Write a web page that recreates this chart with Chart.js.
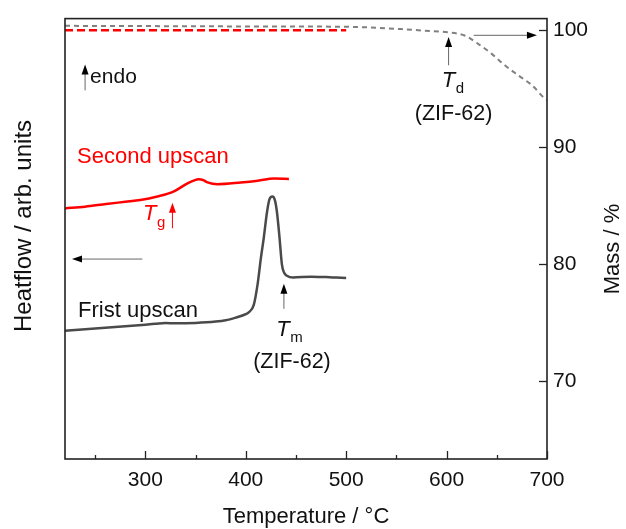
<!DOCTYPE html>
<html>
<head>
<meta charset="utf-8">
<script src="https://cdn.jsdelivr.net/npm/chart.js@4.4.1/dist/chart.umd.min.js"></script>
<style>
  body { margin: 0; background: #fff; }
  canvas { display: block; }
</style>
</head>
<body>
<canvas id="dscChart" width="626" height="529"></canvas>
<script>
var FONT = '"Liberation Sans", Arial, sans-serif';

// TGA mass loss (ZIF-62), right axis
var massTemp  = [220, 300, 400, 500, 555, 578, 601, 618, 632, 645, 658, 672, 685, 698, 700];
var massValue = [100.38, 100.36, 100.33, 100.3, 100.1, 99.97, 99.83, 99.55, 98.8, 97.98, 97.0, 96.1, 95.3, 94.15, 94.05];

// 100 % reference line
var refTemp = [220, 500];
var refMass = [100, 100];

// DSC second upscan (glass), left axis
var secondTemp = [220, 240, 261, 280, 295, 312, 328, 342, 348, 353, 358, 362, 372, 395, 412, 428, 443];
var secondHeat = [56.9, 57.3, 57.9, 58.4, 58.8, 59.6, 60.7, 62.6, 63.2, 63.5, 63.3, 62.8, 62.4, 62.8, 63.2, 63.7, 63.6];

// DSC first upscan (crystal, melting peak), left axis
var firstTemp = [220, 260, 300, 310, 320, 330, 350, 370, 380, 390, 398, 403, 408, 412, 415, 418, 421, 423.5, 426.5, 429, 431, 433.5, 436, 438, 441, 447, 465, 480, 490, 500];
var firstHeat = [29.1, 29.8, 30.5, 30.7, 30.9, 30.8, 30.9, 31.2, 31.5, 32.1, 32.7, 33.3, 35.0, 40.0, 45.5, 50.3, 55.8, 58.9, 59.6, 58.8, 56.2, 50.6, 44.2, 42.4, 41.6, 41.2, 41.4, 41.3, 41.2, 41.1];

var tempTicks = [300, 400, 500, 600, 700];
var massTicks = [70, 80, 90, 100];

function pts(xs, ys) {
  return xs.map(function(x, i) { return { x: x, y: ys[i] }; });
}

function arrow(ctx, x1, y1, x2, y2, color) {
  var ang = Math.atan2(y2 - y1, x2 - x1);
  ctx.save();
  ctx.strokeStyle = color === '#000' ? '#666' : color;
  ctx.lineWidth = 1;
  ctx.beginPath();
  ctx.moveTo(x1, y1);
  ctx.lineTo(x2 - 6 * Math.cos(ang), y2 - 6 * Math.sin(ang));
  ctx.stroke();
  ctx.fillStyle = color;
  ctx.translate(x2, y2);
  ctx.rotate(ang);
  ctx.beginPath();
  ctx.moveTo(0, 0);
  ctx.lineTo(-10, -3.5);
  ctx.lineTo(-10, 3.5);
  ctx.closePath();
  ctx.fill();
  ctx.restore();
}

// italic symbol with upright subscript, centred on cx
function symbol(ctx, main, sub, cx, cy, color, size) {
  var big = 'italic ' + size + 'px ' + FONT;
  var small = Math.round(size * 0.7) + 'px ' + FONT;
  ctx.font = big;
  var w1 = ctx.measureText(main).width;
  ctx.font = small;
  var w2 = ctx.measureText(sub).width;
  var left = cx - (w1 + w2) / 2;
  ctx.fillStyle = color;
  ctx.textAlign = 'left';
  ctx.textBaseline = 'middle';
  ctx.font = big;
  ctx.fillText(main, left, cy);
  ctx.font = small;
  ctx.fillText(sub, left + w1 + 0.5, cy + size * 0.38);
}

function text(ctx, str, x, y, color, size, align) {
  ctx.font = size + 'px ' + FONT;
  ctx.fillStyle = color;
  ctx.textAlign = align || 'left';
  ctx.textBaseline = 'middle';
  ctx.fillText(str, x, y);
}

var decorations = {
  id: 'decorations',
  afterDraw: function(chart) {
    var ctx = chart.ctx, a = chart.chartArea;
    var sx = chart.scales.x, sh = chart.scales.yHeat, sm = chart.scales.yMass;
    var X = function(v) { return sx.getPixelForValue(v); };
    var H = function(v) { return sh.getPixelForValue(v); };
    var M = function(v) { return sm.getPixelForValue(v); };

    ctx.save();
    // frame
    ctx.strokeStyle = '#222';
    ctx.lineWidth = 1.6;
    ctx.strokeRect(a.left, a.top, a.right - a.left, a.bottom - a.top);

    // inward ticks on the temperature axis
    ctx.lineWidth = 1.3;
    for (var t = 250; t <= 700; t += 50) {
      var px = Math.round(X(t)) + 0.5;
      var len = t % 100 === 0 ? 8 : 4;
      ctx.beginPath();
      ctx.moveTo(px, a.bottom);
      ctx.lineTo(px, a.bottom - len);
      ctx.stroke();
    }
    // inward ticks on the mass axis
    massTicks.forEach(function(v) {
      var py = Math.round(M(v)) + 0.5;
      ctx.beginPath();
      ctx.moveTo(a.right, py);
      ctx.lineTo(a.right - 8, py);
      ctx.stroke();
    });

    // axis titles
    text(ctx, 'Temperature / \u00b0C', 306, 517, '#111', 22, 'center');
    ctx.save();
    ctx.translate(24, 226);
    ctx.rotate(-Math.PI / 2);
    text(ctx, 'Heatflow / arb. units', 0, 0, '#111', 24, 'center');
    ctx.restore();
    ctx.save();
    ctx.translate(613, 249);
    ctx.rotate(-Math.PI / 2);
    text(ctx, 'Mass / %', 0, 0, '#111', 22, 'center');
    ctx.restore();

    // endo direction
    arrow(ctx, X(240), H(83.7), X(240), H(89.6), '#000');
    text(ctx, 'endo', X(245), H(86.7), '#111', 21);

    // curve labels
    text(ctx, 'Second upscan', X(232), H(68.6), '#ff0000', 22);
    text(ctx, 'Frist upscan', X(233), H(33.6), '#111', 22);

    // glass transition
    symbol(ctx, 'T', 'g', X(308.5), H(55.6), '#ff0000', 22);
    arrow(ctx, X(327), H(52.4), X(327), H(58.2), '#ff0000');

    // axis pointers
    arrow(ctx, X(297), H(45.4), X(227), H(45.4), '#000');
    arrow(ctx, X(627), M(99.57), X(690), M(99.57), '#000');

    // melting
    arrow(ctx, X(438), H(34.1), X(438), H(39.8), '#000');
    symbol(ctx, 'T', 'm', X(443.3), H(29.3), '#111', 22);
    text(ctx, '(ZIF-62)', X(446), H(21.9), '#111', 21.5, 'center');

    // decomposition
    arrow(ctx, X(602), H(89.4), X(602), H(95.8), '#000');
    symbol(ctx, 'T', 'd', X(606), H(85.9), '#111', 22);
    text(ctx, '(ZIF-62)', X(607), H(78.3), '#111', 21.5, 'center');
    ctx.restore();
  }
};

new Chart(document.getElementById('dscChart').getContext('2d'), {
  type: 'line',
  data: {
    datasets: [
      {
        label: 'Mass',
        data: pts(massTemp, massValue),
        yAxisID: 'yMass',
        borderColor: '#808080',
        borderWidth: 2,
        borderDash: [5, 4],
        pointRadius: 0,
        cubicInterpolationMode: 'monotone'
      },
      {
        label: '100 %',
        data: pts(refTemp, refMass),
        yAxisID: 'yMass',
        borderColor: '#ff0000',
        borderWidth: 2.5,
        borderDash: [8, 4],
        pointRadius: 0
      },
      {
        label: 'Second upscan',
        data: pts(secondTemp, secondHeat),
        yAxisID: 'yHeat',
        borderColor: '#ff0000',
        borderWidth: 2.5,
        pointRadius: 0,
        cubicInterpolationMode: 'monotone'
      },
      {
        label: 'Frist upscan',
        data: pts(firstTemp, firstHeat),
        yAxisID: 'yHeat',
        borderColor: '#4a4a4a',
        borderWidth: 2.5,
        pointRadius: 0,
        cubicInterpolationMode: 'monotone'
      }
    ]
  },
  options: {
    responsive: false,
    animation: false,
    layout: { padding: { left: 65, top: 16, right: 0, bottom: 0 } },
    plugins: {
      legend: { display: false },
      tooltip: { enabled: false }
    },
    scales: {
      x: {
        type: 'linear',
        position: 'bottom',
        min: 220,
        max: 700,
        afterBuildTicks: function(scale) {
          scale.ticks = tempTicks.map(function(v) { return { value: v }; });
        },
        afterFit: function(scale) { scale.height = 70; },
        grid: { drawOnChartArea: false, drawTicks: false },
        border: { display: false },
        ticks: {
          color: '#111',
          padding: 9,
          maxRotation: 0,
          font: { family: FONT, size: 21 }
        }
      },
      yHeat: {
        type: 'linear',
        position: 'left',
        display: false,
        min: 0,
        max: 100
      },
      yMass: {
        type: 'linear',
        position: 'right',
        min: 63.3,
        max: 101,
        afterBuildTicks: function(scale) {
          scale.ticks = massTicks.map(function(v) { return { value: v }; });
        },
        afterFit: function(scale) { scale.width = 79; },
        grid: { drawOnChartArea: false, drawTicks: false },
        border: { display: false },
        ticks: {
          color: '#111',
          padding: 6,
          font: { family: FONT, size: 21 }
        }
      }
    }
  },
  plugins: [decorations]
});
</script>
</body>
</html>
